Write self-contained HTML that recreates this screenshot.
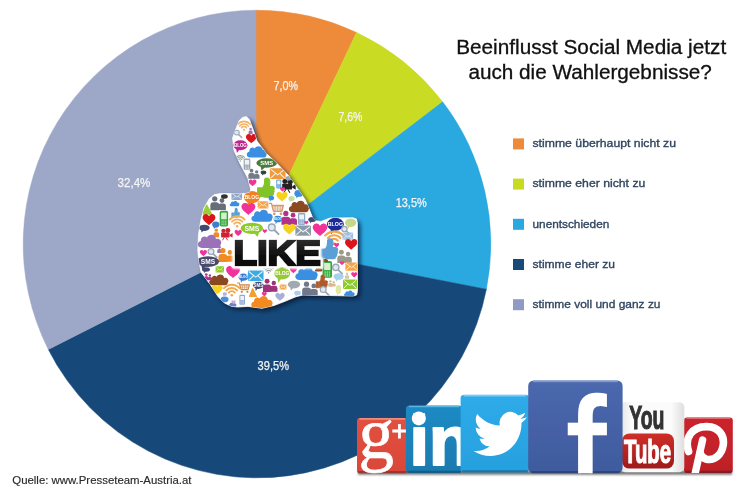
<!DOCTYPE html>
<html lang="de">
<head>
<meta charset="utf-8">
<title>Beeinflusst Social Media jetzt auch die Wahlergebnisse?</title>
<style>
html,body{margin:0;padding:0;background:#fff;}
body{width:750px;height:491px;overflow:hidden;position:relative;font-family:"Liberation Sans",sans-serif;}
svg{position:absolute;left:0;top:0;display:block;}
text{font-family:"Liberation Sans",sans-serif;}
text.serif{font-family:"Liberation Serif",serif;}
.pl{fill:#f4f4f4;font-size:12.2px;stroke:#f4f4f4;stroke-width:0.25px;}
.lg{fill:#30455f;font-size:11.7px;stroke:#30455f;stroke-width:0.35px;}
.ttl{fill:#111;font-size:19.4px;stroke:#111;stroke-width:0.3px;}
.src{fill:#2a2a2a;font-size:11.4px;stroke:#2a2a2a;stroke-width:0.15px;}
</style>
</head>
<body>
<svg width="750" height="491" viewBox="0 0 750 491">
<defs>
<filter id="blur1" x="-5%" y="-5%" width="110%" height="110%"><feGaussianBlur stdDeviation="0.5"/></filter>
<filter id="shadow" x="-20%" y="-20%" width="150%" height="150%"><feGaussianBlur stdDeviation="2"/></filter>
<clipPath id="thumbclip"><path d="M242.6,117.4 L246.2,116.6 L249.4,119.4 L252.6,128 L257,141 L266,153 L277.8,164.2 L288,175 L297.6,188.6 L305.2,199.6 L309.6,210 L312.6,217.6 L316,220.8 L321,221.4 L326,219.6 L330,218 L353,217.8 L356.4,218.9 L357.4,223 L357.4,291.5 L356.6,295 L353,296 L303,295 L296,296.7 L285,301.3 L274,305.5 L262,308.3 L248,306.4 L238,307 L231.6,306.4 L224.4,303 L218.1,296.7 L210.2,284.4 L201,272.2 L198.4,258.3 L197.8,250 L198.4,235 L200.8,220.3 L204,208 L209.4,198.6 L214.5,194.6 L220.5,193.6 L246,193.4 L250,192.3 L250.6,189 L247.8,178.3 L240,163.4 L234,150.6 L232.6,138 L236.3,127.8 L239.2,120.6 Z"/></clipPath>
<linearGradient id="likeg" x1="0" y1="0" x2="0" y2="1"><stop offset="0" stop-color="#3a3a3a"/><stop offset="0.55" stop-color="#111"/><stop offset="1" stop-color="#000"/></linearGradient>
<filter id="halo" x="-10%" y="-20%" width="120%" height="140%"><feMorphology in="SourceAlpha" operator="dilate" radius="2" result="d"/><feGaussianBlur in="d" stdDeviation="0.8" result="db"/><feFlood flood-color="#fff"/><feComposite in2="db" operator="in" result="h"/><feMerge><feMergeNode in="h"/><feMergeNode in="h"/><feMergeNode in="SourceGraphic"/></feMerge></filter>
<filter id="blur2" x="-10%" y="-10%" width="120%" height="120%"><feGaussianBlur stdDeviation="0.55"/></filter>
<filter id="blur3" x="-5%" y="-10%" width="110%" height="120%"><feGaussianBlur stdDeviation="0.5"/></filter>
<filter id="sh2" x="-5%" y="-50%" width="110%" height="200%"><feGaussianBlur stdDeviation="1.2"/></filter>
<linearGradient id="ping" x1="0" y1="0" x2="0" y2="1"><stop offset="0" stop-color="#cb242d"/><stop offset="1" stop-color="#bd1f27"/></linearGradient>
<clipPath id="pinclip"><rect x="684" y="417.4" width="48.8" height="55.6" rx="3"/></clipPath>
<linearGradient id="gpg" x1="0" y1="0" x2="0" y2="1"><stop offset="0" stop-color="#e2513f"/><stop offset="1" stop-color="#d9463a"/></linearGradient>
<linearGradient id="lig" x1="0" y1="0" x2="0" y2="1"><stop offset="0" stop-color="#1d8ac4"/><stop offset="1" stop-color="#197bb0"/></linearGradient>
<linearGradient id="twg" x1="0" y1="0" x2="0" y2="1"><stop offset="0" stop-color="#2eabea"/><stop offset="1" stop-color="#27a0de"/></linearGradient>
<linearGradient id="ytg" x1="0" y1="0" x2="1" y2="0"><stop offset="0" stop-color="#e4e4e4"/><stop offset="0.18" stop-color="#fbfbfb"/><stop offset="0.8" stop-color="#fbfbfb"/><stop offset="1" stop-color="#dedede"/></linearGradient>
<linearGradient id="ytr" x1="0" y1="0" x2="0" y2="1"><stop offset="0" stop-color="#cf2e28"/><stop offset="1" stop-color="#9e1c1c"/></linearGradient>
<linearGradient id="fbg" x1="0" y1="0" x2="0" y2="1"><stop offset="0" stop-color="#4b68ae"/><stop offset="1" stop-color="#3f5b9e"/></linearGradient>
<clipPath id="fbclip"><rect x="528.2" y="380.5" width="94.4" height="92.7" rx="5.5"/></clipPath>

</defs>
<rect width="750" height="491" fill="#fff"/>
<!-- PIE -->
<g id="pie" filter="url(#blur1)">
<path fill="#EE8B3A" stroke="#EE8B3A" stroke-width="0.5" stroke-linejoin="round" d="M256.0,244.4 L255.98,10.20 A233.8,233.8 0 0 1 356.55,32.45 Z"/>
<path fill="#C9DB21" stroke="#C9DB21" stroke-width="0.5" stroke-linejoin="round" d="M256.0,244.4 L356.55,32.45 A233.8,233.8 0 0 1 442.63,101.87 Z"/>
<path fill="#29A9E0" stroke="#29A9E0" stroke-width="0.5" stroke-linejoin="round" d="M256.0,244.4 L442.63,101.87 A233.8,233.8 0 0 1 486.38,289.25 Z"/>
<path fill="#174A79" stroke="#174A79" stroke-width="0.5" stroke-linejoin="round" d="M256.0,244.4 L486.38,289.25 A233.8,233.8 0 0 1 48.31,349.42 Z"/>
<path fill="#9DA7C8" stroke="#9DA7C8" stroke-width="0.5" stroke-linejoin="round" d="M256.0,244.4 L48.31,349.42 A233.8,233.8 0 0 1 255.98,10.20 Z"/>
</g>
<!-- PIE LABELS -->
<g id="plabels">
<text id="p1" class="pl" x="273.5" y="90" textLength="24.5" lengthAdjust="spacingAndGlyphs">7,0%</text>
<text id="p2" class="pl" x="338.4" y="121.2" textLength="24" lengthAdjust="spacingAndGlyphs">7,6%</text>
<text id="p3" class="pl" x="395.7" y="207.4" textLength="31" lengthAdjust="spacingAndGlyphs">13,5%</text>
<text id="p4" class="pl" x="257.6" y="369.6" textLength="31.4" lengthAdjust="spacingAndGlyphs">39,5%</text>
<text id="p5" class="pl" x="117.6" y="187" textLength="32.8" lengthAdjust="spacingAndGlyphs">32,4%</text>
</g>
<!-- TITLE -->
<text id="t1" class="ttl" x="456.2" y="53.7" textLength="270" lengthAdjust="spacingAndGlyphs">Beeinflusst Social Media jetzt</text>
<text id="t2" class="ttl" x="468.4" y="78.6" textLength="243.4" lengthAdjust="spacingAndGlyphs">auch die Wahlergebnisse?</text>
<!-- LEGEND -->
<g id="legend">
<rect x="513" y="138.4" width="11" height="11" fill="#EE8B3A"/>
<rect x="513" y="178.6" width="11" height="11" fill="#C9DB21"/>
<rect x="513" y="218.8" width="11" height="11" fill="#29A9E0"/>
<rect x="513" y="259" width="11" height="11" fill="#174A79"/>
<rect x="513" y="299.2" width="11" height="11" fill="#8F9BC4"/>
<text id="l1" class="lg" x="532.5" y="147.2" textLength="143.5" lengthAdjust="spacingAndGlyphs">stimme überhaupt nicht zu</text>
<text id="l2" class="lg" x="532.5" y="187.4" textLength="112.8" lengthAdjust="spacingAndGlyphs">stimme eher nicht zu</text>
<text id="l3" class="lg" x="532.5" y="227.6" textLength="76.8" lengthAdjust="spacingAndGlyphs">unentschieden</text>
<text id="l4" class="lg" x="532.5" y="267.8" textLength="82.5" lengthAdjust="spacingAndGlyphs">stimme eher zu</text>
<text id="l5" class="lg" x="532.5" y="308" textLength="128" lengthAdjust="spacingAndGlyphs">stimme voll und ganz zu</text>
</g>
<!-- SOURCE -->
<text id="src" class="src" x="12.3" y="483.7">Quelle: www.Presseteam-Austria.at</text>
<g id="thumb">
<path d="M242.6,117.4 L246.2,116.6 L249.4,119.4 L252.6,128 L257,141 L266,153 L277.8,164.2 L288,175 L297.6,188.6 L305.2,199.6 L309.6,210 L312.6,217.6 L316,220.8 L321,221.4 L326,219.6 L330,218 L353,217.8 L356.4,218.9 L357.4,223 L357.4,291.5 L356.6,295 L353,296 L303,295 L296,296.7 L285,301.3 L274,305.5 L262,308.3 L248,306.4 L238,307 L231.6,306.4 L224.4,303 L218.1,296.7 L210.2,284.4 L201,272.2 L198.4,258.3 L197.8,250 L198.4,235 L200.8,220.3 L204,208 L209.4,198.6 L214.5,194.6 L220.5,193.6 L246,193.4 L250,192.3 L250.6,189 L247.8,178.3 L240,163.4 L234,150.6 L232.6,138 L236.3,127.8 L239.2,120.6 Z" transform="translate(2.8,2.8)" fill="#07142a" opacity="0.8" filter="url(#shadow)"/>
<g filter="url(#blur2)"><path d="M242.6,117.4 L246.2,116.6 L249.4,119.4 L252.6,128 L257,141 L266,153 L277.8,164.2 L288,175 L297.6,188.6 L305.2,199.6 L309.6,210 L312.6,217.6 L316,220.8 L321,221.4 L326,219.6 L330,218 L353,217.8 L356.4,218.9 L357.4,223 L357.4,291.5 L356.6,295 L353,296 L303,295 L296,296.7 L285,301.3 L274,305.5 L262,308.3 L248,306.4 L238,307 L231.6,306.4 L224.4,303 L218.1,296.7 L210.2,284.4 L201,272.2 L198.4,258.3 L197.8,250 L198.4,235 L200.8,220.3 L204,208 L209.4,198.6 L214.5,194.6 L220.5,193.6 L246,193.4 L250,192.3 L250.6,189 L247.8,178.3 L240,163.4 L234,150.6 L232.6,138 L236.3,127.8 L239.2,120.6 Z" fill="#fff" stroke="#fff" stroke-width="0.8" stroke-linejoin="round"/>
<g clip-path="url(#thumbclip)">
<path d="M241.55,127.63 A3.29,3.29 0 0 1 246.45,127.63" fill="none" stroke="#f2b262" stroke-width="1.53" stroke-linecap="round"/><path d="M239.63,125.9 A5.88,5.88 0 0 1 248.37,125.9" fill="none" stroke="#f2b262" stroke-width="1.53" stroke-linecap="round"/><path d="M237.71,124.17 A8.47,8.47 0 0 1 250.29,124.17" fill="none" stroke="#f2b262" stroke-width="1.53" stroke-linecap="round"/><circle cx="244" cy="129.83" r="1.06" fill="#f2b262"/>
<circle cx="236.8" cy="132.6" r="2.46" fill="#dfe9f3" stroke="#9aa6b4" stroke-width="1.03"/><path d="M238.89,134.69 L241.73,137.53" stroke="#9aa6b4" stroke-width="1.48" stroke-linecap="round"/>
<circle cx="250.6" cy="129.08" r="1.21" fill="#9b72ba"/><path fill="#9b72ba" d="M248.58,134.12 L248.58,131.99 Q248.58,130.62 249.95,130.62 L251.25,130.62 Q252.62,130.62 252.62,131.99 L252.62,134.12 Z"/>
<path transform="translate(251.3,138.9) scale(0.54)" fill="#d9181f" d="M0,8 C-3,5 -10,1 -10,-4 C-10,-8 -6,-10 -3.5,-9 C-2,-8.6 -0.8,-7.6 0,-6 C0.8,-7.6 2,-8.6 3.5,-9 C6,-10 10,-8 10,-4 C10,1 3,5 0,8 Z"/>
<ellipse cx="240.4" cy="145.2" rx="7.06" ry="5.04" fill="#c0208f"/><path fill="#c0208f" d="M236.17,148.22 L236.87,153.01 L240.05,148.73 Z"/><text x="240.4" y="146.79" font-size="4.41" font-weight="bold" text-anchor="middle" fill="#fff">BLOG</text>
<path transform="translate(257.2,152.2) scale(0.97)" fill="#3b8fe2" d="M-7,5.5 C-11.5,5.5 -12,0 -8,-0.8 C-8.5,-4.5 -4.5,-6 -2.5,-3.8 C-1,-7.5 5.5,-7 5.5,-2.5 C9,-3.5 11.5,0 9.5,2.8 C9.5,4.5 8.5,5.5 6.5,5.5 Z"/>
<path d="M238.67,159.55 A2.2,2.2 0 0 1 241.93,159.55" fill="none" stroke="#8aa08a" stroke-width="1.02" stroke-linecap="round"/><path d="M237.39,158.4 A3.92,3.92 0 0 1 243.21,158.4" fill="none" stroke="#8aa08a" stroke-width="1.02" stroke-linecap="round"/><path d="M236.11,157.25 A5.64,5.64 0 0 1 244.49,157.25" fill="none" stroke="#8aa08a" stroke-width="1.02" stroke-linecap="round"/><circle cx="240.3" cy="161.02" r="0.71" fill="#8aa08a"/>
<rect x="243.64" y="158.6" width="6.72" height="11.2" rx="1.34" fill="#9aa6b4"/><rect x="244.78" y="159.94" width="4.44" height="4.7" fill="#eef2f6"/><path d="M244.98,165.99 H249.02 M244.98,167.34 H249.02 M244.98,168.57 H249.02" stroke="#eef2f6" stroke-width="0.62" stroke-dasharray="1.01 0.5" fill="none"/>
<ellipse cx="266.7" cy="163" rx="10.36" ry="4.76" fill="#4c7a3c"/><path fill="#4c7a3c" d="M260.48,165.86 L261.52,170.38 L266.18,166.33 Z"/><text x="266.7" y="165.12" font-size="5.9" font-weight="bold" text-anchor="middle" fill="#fff">SMS</text>
<circle cx="256.69" cy="171.93" r="1.69" fill="#737b88"/><path fill="#737b88" d="M253.87,178.71 L253.87,176 Q253.87,174.08 255.78,174.08 L257.59,174.08 Q259.51,174.08 259.51,176 L259.51,178.71 Z"/><circle cx="251.54" cy="170.66" r="1.88" fill="#737b88"/><path fill="#737b88" d="M248.4,178.82 L248.4,175.18 Q248.4,173.05 250.53,173.05 L252.54,173.05 Q254.67,173.05 254.67,175.18 L254.67,178.82 Z"/>
<ellipse cx="263.5" cy="172.5" rx="2.8" ry="1.96" fill="#2d4a3a"/><path fill="#2d4a3a" d="M261.82,173.68 L262.1,175.54 L263.36,173.87 Z"/>
<rect x="269.86" y="168.28" width="15.68" height="10.64" rx="1.25" fill="#f09a3a"/><path d="M270.8,169.34 L277.7,174.88 L284.6,169.34 M270.8,178.07 L275.82,173.07 M284.6,178.07 L279.58,173.07" fill="none" stroke="#fff" stroke-opacity="0.85" stroke-width="1.1"/>
<path transform="translate(252.6,183) scale(0.39)" fill="#f2309a" d="M0,8 C-3,5 -10,1 -10,-4 C-10,-8 -6,-10 -3.5,-9 C-2,-8.6 -0.8,-7.6 0,-6 C0.8,-7.6 2,-8.6 3.5,-9 C6,-10 10,-8 10,-4 C10,1 3,5 0,8 Z"/>
<path transform="translate(265.8,187.4) scale(1.02)" fill="#80c42c" stroke="#80c42c" stroke-width="1.1" stroke-linejoin="round" d="M-8,0.5 H-4.6 V9.2 H-8 Z M-3.8,0.8 C-1.6,-0.8 -1,-3.6 -1.2,-7 C-1.3,-10 3.4,-10 3.9,-6.2 C4.2,-3.8 3.6,-2 3.2,-0.9 H6.4 C8.8,-0.9 8.9,2 7.3,2.5 C8.6,3.1 8.4,5 7,5.3 C8,6 7.5,7.7 6.2,7.9 C6.6,8.9 5.8,9.6 4.5,9.6 H-0.5 C-2,9.6 -2.8,9 -3.8,8.5 Z"/>
<rect x="276.28" y="179.52" width="5.04" height="8.96" rx="1.01" fill="#5aa0d6"/><rect x="277.14" y="180.6" width="3.33" height="3.76" fill="#e8f2fa"/><path d="M277.29,185.43 H280.31 M277.29,186.51 H280.31 M277.29,187.49 H280.31" stroke="#e8f2fa" stroke-width="0.49" stroke-dasharray="0.76 0.38" fill="none"/>
<g transform="translate(288.4,185.3) scale(1.04)" fill="#222"><circle cx="-3.4" cy="-3.6" r="2.4"/><circle cx="1.6" cy="-3.9" r="2.8"/><rect x="-6" y="-1.6" width="9.6" height="5.6" rx="0.8"/><path d="M3.6,1.2 L7,-1.2 V4.2 L3.6,2 Z"/><path d="M-2.5,4 L-4.5,7.2 M-0.5,4 L1.5,7.2" stroke="#222" stroke-width="1" fill="none"/></g>
<path transform="translate(282.5,189.6) scale(0.25)" fill="#f2309a" d="M0,8 C-3,5 -10,1 -10,-4 C-10,-8 -6,-10 -3.5,-9 C-2,-8.6 -0.8,-7.6 0,-6 C0.8,-7.6 2,-8.6 3.5,-9 C6,-10 10,-8 10,-4 C10,1 3,5 0,8 Z"/>
<ellipse cx="289" cy="178.3" rx="3.36" ry="2.24" fill="#9aa6b4"/><path fill="#9aa6b4" d="M286.98,179.64 L287.32,181.77 L288.83,179.87 Z"/>
<ellipse cx="298.8" cy="193.4" rx="4.48" ry="3.36" fill="#3b8fe2"/><path fill="#3b8fe2" d="M296.11,195.42 L296.56,198.61 L298.58,195.75 Z"/>
<ellipse cx="224.4" cy="196.6" rx="3.36" ry="2.24" fill="#333"/><path fill="#333" d="M222.38,197.94 L222.72,200.07 L224.23,198.17 Z"/>
<circle cx="221.96" cy="200.58" r="2.37" fill="#666e7a"/><path fill="#666e7a" d="M218.01,210.07 L218.01,206.27 Q218.01,203.59 220.7,203.59 L223.23,203.59 Q225.91,203.59 225.91,206.27 L225.91,210.07 Z"/><circle cx="214.75" cy="198.81" r="2.63" fill="#666e7a"/><path fill="#666e7a" d="M210.36,210.22 L210.36,205.13 Q210.36,202.15 213.35,202.15 L216.16,202.15 Q219.14,202.15 219.14,205.13 L219.14,210.22 Z"/>
<rect x="231.48" y="192.66" width="10.64" height="7.28" rx="0.85" fill="#8fa8c8"/><path d="M232.12,193.39 L236.8,197.17 L241.48,193.39 M232.12,199.36 L235.52,195.94 M241.48,199.36 L238.08,195.94" fill="none" stroke="#fff" stroke-opacity="0.85" stroke-width="0.74"/>
<ellipse cx="251.9" cy="197.2" rx="7.84" ry="6.16" fill="#f08020"/><path fill="#f08020" d="M247.2,200.9 L247.98,206.75 L251.51,201.51 Z"/><text x="251.9" y="198.96" font-size="4.9" font-weight="bold" text-anchor="middle" fill="#fff">BLOG</text>
<path transform="translate(282,197) scale(0.56)" fill="#f6d21f" d="M0,8 C-3,5 -10,1 -10,-4 C-10,-8 -6,-10 -3.5,-9 C-2,-8.6 -0.8,-7.6 0,-6 C0.8,-7.6 2,-8.6 3.5,-9 C6,-10 10,-8 10,-4 C10,1 3,5 0,8 Z"/>
<rect x="257.68" y="201.16" width="10.64" height="7.28" rx="0.85" fill="#f5a64a"/><path d="M258.32,201.89 L263,205.67 L267.68,201.89 M258.32,207.86 L261.72,204.44 M267.68,207.86 L264.28,204.44" fill="none" stroke="#fff" stroke-opacity="0.85" stroke-width="0.74"/>
<path transform="translate(234.7,203.8) scale(0.46)" fill="#3b8fe2" d="M-7,5.5 C-11.5,5.5 -12,0 -8,-0.8 C-8.5,-4.5 -4.5,-6 -2.5,-3.8 C-1,-7.5 5.5,-7 5.5,-2.5 C9,-3.5 11.5,0 9.5,2.8 C9.5,4.5 8.5,5.5 6.5,5.5 Z"/>
<path transform="translate(235.6,212.6) scale(0.49)" fill="#5aa0d6" stroke="#5aa0d6" stroke-width="1.1" stroke-linejoin="round" d="M-8,0.5 H-4.6 V9.2 H-8 Z M-3.8,0.8 C-1.6,-0.8 -1,-3.6 -1.2,-7 C-1.3,-10 3.4,-10 3.9,-6.2 C4.2,-3.8 3.6,-2 3.2,-0.9 H6.4 C8.8,-0.9 8.9,2 7.3,2.5 C8.6,3.1 8.4,5 7,5.3 C8,6 7.5,7.7 6.2,7.9 C6.6,8.9 5.8,9.6 4.5,9.6 H-0.5 C-2,9.6 -2.8,9 -3.8,8.5 Z"/>
<path fill="#98d030" stroke="#98d030" stroke-width="1.71" stroke-linejoin="round" d="M203.2,213.83 L206.72,205.37 L211.2,213.83 Z"/>
<path transform="translate(248.4,209.4) scale(0.7)" fill="#f2309a" d="M0,8 C-3,5 -10,1 -10,-4 C-10,-8 -6,-10 -3.5,-9 C-2,-8.6 -0.8,-7.6 0,-6 C0.8,-7.6 2,-8.6 3.5,-9 C6,-10 10,-8 10,-4 C10,1 3,5 0,8 Z"/>
<g transform="translate(276.6,208.6) scale(1.04)"><path d="M-7,-5 H-5 L-3,2.5 H5 L6.5,-3 H-4.4" fill="none" stroke="#d49a72" stroke-width="1.3" stroke-linejoin="round" stroke-linecap="round"/><path d="M-4,-1.6 H6 M-3.6,0.4 H5.5 M-1.5,-3 V2.5 M1,-3 V2.5 M3.5,-3 V2.5" fill="none" stroke="#d49a72" stroke-width="0.7"/><circle cx="-2.2" cy="5" r="1.3" fill="#d49a72"/><circle cx="4.2" cy="5" r="1.3" fill="#d49a72"/></g>
<ellipse cx="271.3" cy="198" rx="2.8" ry="2.35" fill="#3b8fe2"/><path fill="#3b8fe2" d="M269.62,199.41 L269.9,201.65 L271.16,199.65 Z"/>
<ellipse cx="291.5" cy="198.4" rx="3.08" ry="2.52" fill="#c4dca0"/><path fill="#c4dca0" d="M289.65,199.91 L289.96,202.31 L291.35,200.16 Z"/>
<path transform="translate(299.3,206.8) scale(0.97)" fill="#8b4a22" d="M-7,5.5 C-11.5,5.5 -12,0 -8,-0.8 C-8.5,-4.5 -4.5,-6 -2.5,-3.8 C-1,-7.5 5.5,-7 5.5,-2.5 C9,-3.5 11.5,0 9.5,2.8 C9.5,4.5 8.5,5.5 6.5,5.5 Z"/>
<path transform="translate(209,220) scale(0.64)" fill="#d9181f" d="M0,8 C-3,5 -10,1 -10,-4 C-10,-8 -6,-10 -3.5,-9 C-2,-8.6 -0.8,-7.6 0,-6 C0.8,-7.6 2,-8.6 3.5,-9 C6,-10 10,-8 10,-4 C10,1 3,5 0,8 Z"/>
<rect x="219.7" y="210.76" width="8.4" height="15.68" rx="1.68" fill="#37a83c"/><rect x="221.13" y="212.64" width="5.54" height="6.59" fill="#d8f0d0"/><path d="M221.38,221.11 H226.42 M221.38,222.99 H226.42 M221.38,224.72 H226.42" stroke="#d8f0d0" stroke-width="0.86" stroke-dasharray="1.26 0.63" fill="none"/>
<path d="M234.29,223.72 A3.92,3.92 0 0 1 240.11,223.72" fill="none" stroke="#f2ae58" stroke-width="1.82" stroke-linecap="round"/><path d="M232,221.66 A7,7 0 0 1 242.4,221.66" fill="none" stroke="#f2ae58" stroke-width="1.82" stroke-linecap="round"/><path d="M229.71,219.6 A10.08,10.08 0 0 1 244.69,219.6" fill="none" stroke="#f2ae58" stroke-width="1.82" stroke-linecap="round"/><circle cx="237.2" cy="226.34" r="1.26" fill="#f2ae58"/>
<path transform="translate(262.3,216.2) scale(1.02)" fill="#3b8fe2" d="M-7,5.5 C-11.5,5.5 -12,0 -8,-0.8 C-8.5,-4.5 -4.5,-6 -2.5,-3.8 C-1,-7.5 5.5,-7 5.5,-2.5 C9,-3.5 11.5,0 9.5,2.8 C9.5,4.5 8.5,5.5 6.5,5.5 Z"/>
<ellipse cx="277.8" cy="219" rx="4.2" ry="3.36" fill="#3a8cd8"/><path fill="#3a8cd8" d="M275.28,221.02 L275.7,224.21 L277.59,221.35 Z"/><text x="277.8" y="219.94" font-size="2.62" font-weight="bold" text-anchor="middle" fill="#fff">BLOG</text>
<circle cx="293.06" cy="215.18" r="2.37" fill="#b0308a"/><path fill="#b0308a" d="M289.11,224.67 L289.11,220.87 Q289.11,218.19 291.8,218.19 L294.33,218.19 Q297.01,218.19 297.01,220.87 L297.01,224.67 Z"/><circle cx="285.85" cy="213.41" r="2.63" fill="#b0308a"/><path fill="#b0308a" d="M281.46,224.82 L281.46,219.73 Q281.46,216.75 284.45,216.75 L287.26,216.75 Q290.24,216.75 290.24,219.73 L290.24,224.82 Z"/>
<rect x="297.96" y="213.12" width="7.28" height="11.76" rx="1.46" fill="#8fa8c8"/><rect x="299.2" y="214.53" width="4.8" height="4.94" fill="#eef2f6"/><path d="M299.42,220.88 H303.78 M299.42,222.29 H303.78 M299.42,223.59 H303.78" stroke="#eef2f6" stroke-width="0.65" stroke-dasharray="1.09 0.55" fill="none"/>
<ellipse cx="312.2" cy="219.6" rx="3.92" ry="2.52" fill="#3f4a70"/><path fill="#3f4a70" d="M309.85,221.11 L310.24,223.51 L312,221.36 Z"/>
<ellipse cx="215.8" cy="224.6" rx="3.64" ry="3.08" fill="#3a80d0"/><path fill="#3a80d0" d="M213.62,226.45 L213.98,229.37 L215.62,226.76 Z"/>
<ellipse cx="204.3" cy="227.8" rx="5.32" ry="3.08" fill="#3f4a70"/><path fill="#3f4a70" d="M201.11,229.65 L201.64,232.57 L204.03,229.96 Z"/>
<ellipse cx="251.9" cy="228.3" rx="11.2" ry="5.6" fill="#8ccb2a"/><path fill="#8ccb2a" d="M253.02,231.66 L257.5,236.98 L259.18,232.22 Z"/><text x="251.9" y="230.8" font-size="6.94" font-weight="bold" text-anchor="middle" fill="#fff">SMS</text>
<circle cx="271.8" cy="227.4" r="3.36" fill="#dfe9f3" stroke="#9aa6b4" stroke-width="1.41"/><path d="M274.66,230.26 L278.52,234.12" stroke="#9aa6b4" stroke-width="2.02" stroke-linecap="round"/>
<path transform="translate(264.8,231.4) scale(0.22)" fill="#f2309a" d="M0,8 C-3,5 -10,1 -10,-4 C-10,-8 -6,-10 -3.5,-9 C-2,-8.6 -0.8,-7.6 0,-6 C0.8,-7.6 2,-8.6 3.5,-9 C6,-10 10,-8 10,-4 C10,1 3,5 0,8 Z"/>
<path transform="translate(289.3,229.6) scale(0.62)" fill="#f6d21f" d="M0,8 C-3,5 -10,1 -10,-4 C-10,-8 -6,-10 -3.5,-9 C-2,-8.6 -0.8,-7.6 0,-6 C0.8,-7.6 2,-8.6 3.5,-9 C6,-10 10,-8 10,-4 C10,1 3,5 0,8 Z"/>
<rect x="295.36" y="225.56" width="15.68" height="10.08" rx="1.25" fill="#8a9aa8"/><path d="M296.3,226.57 L303.2,231.81 L310.1,226.57 M296.3,234.83 L301.32,230.1 M310.1,234.83 L305.08,230.1" fill="none" stroke="#fff" stroke-opacity="0.85" stroke-width="1.1"/>
<path transform="translate(320,230.2) scale(0.73)" fill="#f2309a" d="M0,8 C-3,5 -10,1 -10,-4 C-10,-8 -6,-10 -3.5,-9 C-2,-8.6 -0.8,-7.6 0,-6 C0.8,-7.6 2,-8.6 3.5,-9 C6,-10 10,-8 10,-4 C10,1 3,5 0,8 Z"/>
<path transform="translate(306.4,222.8) scale(0.2)" fill="#f2309a" d="M0,8 C-3,5 -10,1 -10,-4 C-10,-8 -6,-10 -3.5,-9 C-2,-8.6 -0.8,-7.6 0,-6 C0.8,-7.6 2,-8.6 3.5,-9 C6,-10 10,-8 10,-4 C10,1 3,5 0,8 Z"/>
<ellipse cx="335.4" cy="224.3" rx="8.4" ry="6.44" fill="#1b2a98"/><path fill="#1b2a98" d="M330.36,228.16 L331.2,234.28 L334.98,228.81 Z"/><text x="335.4" y="226.19" font-size="5.25" font-weight="bold" text-anchor="middle" fill="#fff">BLOG</text>
<ellipse cx="350.6" cy="222.8" rx="5.6" ry="4.2" fill="#c8d88a"/><path fill="#c8d88a" d="M347.24,225.32 L347.8,229.31 L350.32,225.74 Z"/>
<circle cx="344.4" cy="229" r="2.69" fill="#dfe9f3" stroke="#9aa6b4" stroke-width="1.13"/><path d="M346.68,231.28 L349.78,234.38" stroke="#9aa6b4" stroke-width="1.61" stroke-linecap="round"/>
<path d="M330.7,240.5 A4.7,4.7 0 0 1 337.7,240.5" fill="none" stroke="#f5a64a" stroke-width="2.18" stroke-linecap="round"/><path d="M327.96,238.03 A8.4,8.4 0 0 1 340.44,238.03" fill="none" stroke="#f5a64a" stroke-width="2.18" stroke-linecap="round"/><path d="M325.21,235.55 A12.1,12.1 0 0 1 343.19,235.55" fill="none" stroke="#f5a64a" stroke-width="2.18" stroke-linecap="round"/><circle cx="334.2" cy="243.65" r="1.51" fill="#f5a64a"/>
<rect x="342.48" y="232.56" width="10.64" height="7.28" rx="0.85" fill="#9fc0e0"/><path d="M343.12,233.29 L347.8,237.07 L352.48,233.29 M343.12,239.26 L346.52,235.84 M352.48,239.26 L349.08,235.84" fill="none" stroke="#fff" stroke-opacity="0.85" stroke-width="0.74"/>
<path transform="translate(351.2,244.8) scale(0.62)" fill="#d9181f" d="M0,8 C-3,5 -10,1 -10,-4 C-10,-8 -6,-10 -3.5,-9 C-2,-8.6 -0.8,-7.6 0,-6 C0.8,-7.6 2,-8.6 3.5,-9 C6,-10 10,-8 10,-4 C10,1 3,5 0,8 Z"/>
<path transform="translate(336.6,245.2) scale(0.25)" fill="#f2309a" d="M0,8 C-3,5 -10,1 -10,-4 C-10,-8 -6,-10 -3.5,-9 C-2,-8.6 -0.8,-7.6 0,-6 C0.8,-7.6 2,-8.6 3.5,-9 C6,-10 10,-8 10,-4 C10,1 3,5 0,8 Z"/>
<path transform="translate(328.8,248.5) scale(1.05)" fill="#5aa0d6" stroke="#5aa0d6" stroke-width="1.1" stroke-linejoin="round" d="M-8,0.5 H-4.6 V9.2 H-8 Z M-3.8,0.8 C-1.6,-0.8 -1,-3.6 -1.2,-7 C-1.3,-10 3.4,-10 3.9,-6.2 C4.2,-3.8 3.6,-2 3.2,-0.9 H6.4 C8.8,-0.9 8.9,2 7.3,2.5 C8.6,3.1 8.4,5 7,5.3 C8,6 7.5,7.7 6.2,7.9 C6.6,8.9 5.8,9.6 4.5,9.6 H-0.5 C-2,9.6 -2.8,9 -3.8,8.5 Z"/>
<circle cx="348.09" cy="253.97" r="2.2" fill="#9a9a8a"/><path fill="#9a9a8a" d="M344.43,262.78 L344.43,259.25 Q344.43,256.76 346.92,256.76 L349.27,256.76 Q351.76,256.76 351.76,259.25 L351.76,262.78 Z"/><circle cx="341.4" cy="252.32" r="2.45" fill="#9a9a8a"/><path fill="#9a9a8a" d="M337.32,262.92 L337.32,258.19 Q337.32,255.42 340.09,255.42 L342.7,255.42 Q345.47,255.42 345.47,258.19 L345.47,262.92 Z"/>
<circle cx="216.3" cy="230.14" r="1.68" fill="#f28a22"/><path fill="#f28a22" d="M213.5,237.14 L213.5,234.17 Q213.5,232.27 215.4,232.27 L217.2,232.27 Q219.1,232.27 219.1,234.17 L219.1,237.14 Z"/>
<g transform="translate(226.4,234) scale(0.88)" fill="#d02030"><circle cx="-3.4" cy="-3.6" r="2.4"/><circle cx="1.6" cy="-3.9" r="2.8"/><rect x="-6" y="-1.6" width="9.6" height="5.6" rx="0.8"/><path d="M3.6,1.2 L7,-1.2 V4.2 L3.6,2 Z"/><path d="M-2.5,4 L-4.5,7.2 M-0.5,4 L1.5,7.2" stroke="#d02030" stroke-width="1" fill="none"/></g>
<path transform="translate(238.2,233.2) scale(0.36)" fill="#f2309a" d="M0,8 C-3,5 -10,1 -10,-4 C-10,-8 -6,-10 -3.5,-9 C-2,-8.6 -0.8,-7.6 0,-6 C0.8,-7.6 2,-8.6 3.5,-9 C6,-10 10,-8 10,-4 C10,1 3,5 0,8 Z"/>
<path transform="translate(209.8,241.8) scale(1.12)" fill="#9b72ba" d="M-7,5.5 C-11.5,5.5 -12,0 -8,-0.8 C-8.5,-4.5 -4.5,-6 -2.5,-3.8 C-1,-7.5 5.5,-7 5.5,-2.5 C9,-3.5 11.5,0 9.5,2.8 C9.5,4.5 8.5,5.5 6.5,5.5 Z"/>
<path transform="translate(203.4,253.3) scale(0.36)" fill="#f2309a" d="M0,8 C-3,5 -10,1 -10,-4 C-10,-8 -6,-10 -3.5,-9 C-2,-8.6 -0.8,-7.6 0,-6 C0.8,-7.6 2,-8.6 3.5,-9 C6,-10 10,-8 10,-4 C10,1 3,5 0,8 Z"/>
<circle cx="211" cy="251.6" r="2.91" fill="#dfe9f3" stroke="#9aa6b4" stroke-width="1.22"/><path d="M213.48,254.08 L216.82,257.42" stroke="#9aa6b4" stroke-width="1.75" stroke-linecap="round"/>
<circle cx="219.5" cy="247.37" r="1.34" fill="#9b72ba"/><path fill="#9b72ba" d="M217.26,252.97 L217.26,250.6 Q217.26,249.07 218.78,249.07 L220.22,249.07 Q221.74,249.07 221.74,250.6 L221.74,252.97 Z"/>
<circle cx="230.06" cy="252.38" r="2.37" fill="#f28a22"/><path fill="#f28a22" d="M226.11,261.87 L226.11,258.07 Q226.11,255.39 228.8,255.39 L231.33,255.39 Q234.01,255.39 234.01,258.07 L234.01,261.87 Z"/><circle cx="222.85" cy="250.61" r="2.63" fill="#f28a22"/><path fill="#f28a22" d="M218.46,262.02 L218.46,256.93 Q218.46,253.95 221.45,253.95 L224.26,253.95 Q227.24,253.95 227.24,256.93 L227.24,262.02 Z"/>
<ellipse cx="207.9" cy="261.6" rx="11.2" ry="5.32" fill="#4a4a6c"/><path fill="#4a4a6c" d="M201.18,264.79 L202.3,269.85 L207.34,265.32 Z"/><text x="207.9" y="263.97" font-size="6.6" font-weight="bold" text-anchor="middle" fill="#fff">SMS</text>
<ellipse cx="206" cy="269.6" rx="3.92" ry="2.24" fill="#3f4a70"/><path fill="#3f4a70" d="M203.65,270.94 L204.04,273.07 L205.8,271.17 Z"/>
<rect x="215.6" y="266.22" width="8.4" height="6.16" rx="0.67" fill="#8ccb2a"/><path d="M216.1,266.84 L219.8,270.04 L223.5,266.84 M216.1,271.89 L218.79,268.99 M223.5,271.89 L220.81,268.99" fill="none" stroke="#fff" stroke-opacity="0.85" stroke-width="0.6"/>
<circle cx="209.88" cy="275.49" r="1.19" fill="#b0308a"/><path fill="#b0308a" d="M207.91,280.23 L207.91,278.34 Q207.91,276.99 209.25,276.99 L210.51,276.99 Q211.86,276.99 211.86,278.34 L211.86,280.23 Z"/><circle cx="206.28" cy="274.6" r="1.32" fill="#b0308a"/><path fill="#b0308a" d="M204.08,280.31 L204.08,277.77 Q204.08,276.27 205.57,276.27 L206.98,276.27 Q208.47,276.27 208.47,277.77 L208.47,280.31 Z"/>
<path transform="translate(233,272.4) scale(0.69)" fill="#f2309a" d="M0,8 C-3,5 -10,1 -10,-4 C-10,-8 -6,-10 -3.5,-9 C-2,-8.6 -0.8,-7.6 0,-6 C0.8,-7.6 2,-8.6 3.5,-9 C6,-10 10,-8 10,-4 C10,1 3,5 0,8 Z"/>
<ellipse cx="243.4" cy="277.2" rx="4.76" ry="3.64" fill="#3a7ad0"/><path fill="#3a7ad0" d="M240.54,279.38 L241.02,282.84 L243.16,279.75 Z"/><text x="243.4" y="278.27" font-size="2.98" font-weight="bold" text-anchor="middle" fill="#fff">BLOG</text>
<rect x="247.86" y="270.48" width="15.68" height="10.64" rx="1.25" fill="#3aa9e2"/><path d="M248.8,271.54 L255.7,277.08 L262.6,271.54 M248.8,280.27 L253.82,275.27 M262.6,280.27 L257.58,275.27" fill="none" stroke="#fff" stroke-opacity="0.85" stroke-width="1.1"/>
<path d="M266.74,271.15 A2.51,2.51 0 0 1 270.46,271.15" fill="none" stroke="#8a9a9a" stroke-width="1.16" stroke-linecap="round"/><path d="M265.27,269.83 A4.48,4.48 0 0 1 271.93,269.83" fill="none" stroke="#8a9a9a" stroke-width="1.16" stroke-linecap="round"/><path d="M263.81,268.51 A6.45,6.45 0 0 1 273.39,268.51" fill="none" stroke="#8a9a9a" stroke-width="1.16" stroke-linecap="round"/><circle cx="268.6" cy="272.83" r="0.81" fill="#8a9a9a"/>
<ellipse cx="282.2" cy="273.4" rx="7.84" ry="6.16" fill="#9ac83a"/><path fill="#9ac83a" d="M277.5,277.1 L278.28,282.95 L281.81,277.71 Z"/><text x="282.2" y="275.16" font-size="4.9" font-weight="bold" text-anchor="middle" fill="#fff">BLOG</text>
<path transform="translate(293.4,270.3) scale(0.36)" fill="#f2309a" d="M0,8 C-3,5 -10,1 -10,-4 C-10,-8 -6,-10 -3.5,-9 C-2,-8.6 -0.8,-7.6 0,-6 C0.8,-7.6 2,-8.6 3.5,-9 C6,-10 10,-8 10,-4 C10,1 3,5 0,8 Z"/>
<path transform="translate(306.8,274) scale(1.07)" fill="#3b8fe2" d="M-7,5.5 C-11.5,5.5 -12,0 -8,-0.8 C-8.5,-4.5 -4.5,-6 -2.5,-3.8 C-1,-7.5 5.5,-7 5.5,-2.5 C9,-3.5 11.5,0 9.5,2.8 C9.5,4.5 8.5,5.5 6.5,5.5 Z"/>
<path transform="translate(318.8,269.5) scale(0.36)" fill="#8b4a22" d="M-7,5.5 C-11.5,5.5 -12,0 -8,-0.8 C-8.5,-4.5 -4.5,-6 -2.5,-3.8 C-1,-7.5 5.5,-7 5.5,-2.5 C9,-3.5 11.5,0 9.5,2.8 C9.5,4.5 8.5,5.5 6.5,5.5 Z"/>
<rect x="322.54" y="261" width="9.52" height="16.8" rx="1.9" fill="#37a83c"/><rect x="324.16" y="263.02" width="6.28" height="7.06" fill="#d8f0d0"/><path d="M324.44,272.09 H330.16 M324.44,274.1 H330.16 M324.44,275.95 H330.16" stroke="#d8f0d0" stroke-width="0.92" stroke-dasharray="1.43 0.71" fill="none"/>
<circle cx="335.8" cy="267.4" r="3.14" fill="#dfe9f3" stroke="#9aa6b4" stroke-width="1.32"/><path d="M338.47,270.07 L342.07,273.67" stroke="#9aa6b4" stroke-width="1.88" stroke-linecap="round"/>
<rect x="345.34" y="262.4" width="12.32" height="8.4" rx="0.99" fill="#f5a64a"/><path d="M346.08,263.24 L351.5,267.61 L356.92,263.24 M346.08,270.13 L350.02,266.18 M356.92,270.13 L352.98,266.18" fill="none" stroke="#fff" stroke-opacity="0.85" stroke-width="0.86"/>
<path transform="translate(354.2,275) scale(0.31)" fill="#f2309a" d="M0,8 C-3,5 -10,1 -10,-4 C-10,-8 -6,-10 -3.5,-9 C-2,-8.6 -0.8,-7.6 0,-6 C0.8,-7.6 2,-8.6 3.5,-9 C6,-10 10,-8 10,-4 C10,1 3,5 0,8 Z"/>
<ellipse cx="338.6" cy="276.5" rx="5.04" ry="3.36" fill="#a8d0f0"/><path fill="#a8d0f0" d="M335.58,278.52 L336.08,281.71 L338.35,278.85 Z"/>
<path transform="translate(219,280.2) scale(0.92)" fill="#8b4a22" d="M-7,5.5 C-11.5,5.5 -12,0 -8,-0.8 C-8.5,-4.5 -4.5,-6 -2.5,-3.8 C-1,-7.5 5.5,-7 5.5,-2.5 C9,-3.5 11.5,0 9.5,2.8 C9.5,4.5 8.5,5.5 6.5,5.5 Z"/>
<g transform="translate(243.7,287.4) scale(0.88)"><path d="M-7,-5 H-5 L-3,2.5 H5 L6.5,-3 H-4.4" fill="none" stroke="#c98a4e" stroke-width="1.3" stroke-linejoin="round" stroke-linecap="round"/><path d="M-4,-1.6 H6 M-3.6,0.4 H5.5 M-1.5,-3 V2.5 M1,-3 V2.5 M3.5,-3 V2.5" fill="none" stroke="#c98a4e" stroke-width="0.7"/><circle cx="-2.2" cy="5" r="1.3" fill="#c98a4e"/><circle cx="4.2" cy="5" r="1.3" fill="#c98a4e"/></g>
<ellipse cx="258.4" cy="285.3" rx="5.32" ry="3.64" fill="#3f4a70"/><path fill="#3f4a70" d="M255.21,287.48 L255.74,290.94 L258.13,287.85 Z"/><text x="258.4" y="286.9" font-size="4.43" font-weight="bold" text-anchor="middle" fill="#fff">SMS</text>
<circle cx="273.79" cy="282.97" r="2.2" fill="#a0307a"/><path fill="#a0307a" d="M270.13,291.78 L270.13,288.25 Q270.13,285.76 272.62,285.76 L274.97,285.76 Q277.46,285.76 277.46,288.25 L277.46,291.78 Z"/><circle cx="267.1" cy="281.32" r="2.45" fill="#a0307a"/><path fill="#a0307a" d="M263.02,291.92 L263.02,287.19 Q263.02,284.42 265.79,284.42 L268.4,284.42 Q271.17,284.42 271.17,287.19 L271.17,291.92 Z"/>
<rect x="279.64" y="284.54" width="6.72" height="4.93" rx="0.54" fill="#f5a64a"/><path d="M280.04,285.03 L283,287.59 L285.96,285.03 M280.04,289.07 L282.19,286.75 M285.96,289.07 L283.81,286.75" fill="none" stroke="#fff" stroke-opacity="0.85" stroke-width="0.6"/>
<ellipse cx="294" cy="284.6" rx="6.16" ry="3.92" fill="#a0a8b0"/><path fill="#a0a8b0" d="M290.3,286.95 L290.92,290.68 L293.69,287.34 Z"/>
<circle cx="313.76" cy="285.98" r="2.37" fill="#70788a"/><path fill="#70788a" d="M309.81,295.47 L309.81,291.67 Q309.81,288.99 312.5,288.99 L315.03,288.99 Q317.71,288.99 317.71,291.67 L317.71,295.47 Z"/><circle cx="306.55" cy="284.21" r="2.63" fill="#70788a"/><path fill="#70788a" d="M302.16,295.62 L302.16,290.53 Q302.16,287.55 305.15,287.55 L307.96,287.55 Q310.94,287.55 310.94,290.53 L310.94,295.62 Z"/>
<path transform="translate(321.8,281.4) scale(0.7)" fill="#b05a2a" stroke="#b05a2a" stroke-width="1.1" stroke-linejoin="round" d="M-8,0.5 H-4.6 V9.2 H-8 Z M-3.8,0.8 C-1.6,-0.8 -1,-3.6 -1.2,-7 C-1.3,-10 3.4,-10 3.9,-6.2 C4.2,-3.8 3.6,-2 3.2,-0.9 H6.4 C8.8,-0.9 8.9,2 7.3,2.5 C8.6,3.1 8.4,5 7,5.3 C8,6 7.5,7.7 6.2,7.9 C6.6,8.9 5.8,9.6 4.5,9.6 H-0.5 C-2,9.6 -2.8,9 -3.8,8.5 Z"/>
<circle cx="323.2" cy="289.6" r="2.91" fill="#dfe9f3" stroke="#9aa6b4" stroke-width="1.22"/><path d="M325.68,292.08 L329.02,295.42" stroke="#9aa6b4" stroke-width="1.75" stroke-linecap="round"/>
<rect x="343" y="279.38" width="14" height="9.63" rx="1.12" fill="#8ccb2a"/><path d="M343.84,280.35 L350,285.36 L356.16,280.35 M343.84,288.25 L348.32,283.72 M356.16,288.25 L351.68,283.72" fill="none" stroke="#fff" stroke-opacity="0.85" stroke-width="0.98"/>
<path transform="translate(342,263.4) scale(0.22)" fill="#f2309a" d="M0,8 C-3,5 -10,1 -10,-4 C-10,-8 -6,-10 -3.5,-9 C-2,-8.6 -0.8,-7.6 0,-6 C0.8,-7.6 2,-8.6 3.5,-9 C6,-10 10,-8 10,-4 C10,1 3,5 0,8 Z"/>
<path transform="translate(325,260.4) scale(0.31)" fill="#8b4a22" d="M-7,5.5 C-11.5,5.5 -12,0 -8,-0.8 C-8.5,-4.5 -4.5,-6 -2.5,-3.8 C-1,-7.5 5.5,-7 5.5,-2.5 C9,-3.5 11.5,0 9.5,2.8 C9.5,4.5 8.5,5.5 6.5,5.5 Z"/>
<circle cx="347" cy="273.68" r="1.21" fill="#d8c8a0"/><path fill="#d8c8a0" d="M344.98,278.72 L344.98,276.59 Q344.98,275.22 346.35,275.22 L347.65,275.22 Q349.02,275.22 349.02,276.59 L349.02,278.72 Z"/>
<circle cx="333.75" cy="282.19" r="1.1" fill="#d8b890"/><path fill="#d8b890" d="M331.91,286.59 L331.91,284.83 Q331.91,283.58 333.16,283.58 L334.33,283.58 Q335.58,283.58 335.58,284.83 L335.58,286.59 Z"/><circle cx="330.4" cy="281.36" r="1.22" fill="#d8b890"/><path fill="#d8b890" d="M328.36,286.66 L328.36,284.3 Q328.36,282.91 329.75,282.91 L331.05,282.91 Q332.44,282.91 332.44,284.3 L332.44,286.66 Z"/>
<path transform="translate(349.5,293.6) scale(0.51)" fill="#3b8fe2" d="M-7,5.5 C-11.5,5.5 -12,0 -8,-0.8 C-8.5,-4.5 -4.5,-6 -2.5,-3.8 C-1,-7.5 5.5,-7 5.5,-2.5 C9,-3.5 11.5,0 9.5,2.8 C9.5,4.5 8.5,5.5 6.5,5.5 Z"/>
<ellipse cx="338.5" cy="289.6" rx="2.8" ry="4.48" fill="#e0e8a0"/><path fill="#e0e8a0" d="M336.82,292.29 L337.1,296.54 L338.36,292.74 Z"/>
<path transform="translate(217.2,290) scale(0.54)" fill="#f6d21f" d="M0,8 C-3,5 -10,1 -10,-4 C-10,-8 -6,-10 -3.5,-9 C-2,-8.6 -0.8,-7.6 0,-6 C0.8,-7.6 2,-8.6 3.5,-9 C6,-10 10,-8 10,-4 C10,1 3,5 0,8 Z"/>
<path transform="translate(232.8,304.4) scale(0.36)" fill="#6a80c8" d="M-7,5.5 C-11.5,5.5 -12,0 -8,-0.8 C-8.5,-4.5 -4.5,-6 -2.5,-3.8 C-1,-7.5 5.5,-7 5.5,-2.5 C9,-3.5 11.5,0 9.5,2.8 C9.5,4.5 8.5,5.5 6.5,5.5 Z"/>
<ellipse cx="224.8" cy="294" rx="2.24" ry="1.68" fill="#b8b0e0"/><path fill="#b8b0e0" d="M223.46,295.01 L223.68,296.6 L224.69,295.18 Z"/>
<path d="M228.77,292.51 A4.08,4.08 0 0 1 234.83,292.51" fill="none" stroke="#f5a64a" stroke-width="1.89" stroke-linecap="round"/><path d="M226.39,290.37 A7.28,7.28 0 0 1 237.21,290.37" fill="none" stroke="#f5a64a" stroke-width="1.89" stroke-linecap="round"/><path d="M224.01,288.23 A10.48,10.48 0 0 1 239.59,288.23" fill="none" stroke="#f5a64a" stroke-width="1.89" stroke-linecap="round"/><circle cx="231.8" cy="295.24" r="1.31" fill="#f5a64a"/>
<path fill="#f0a030" stroke="#f0a030" stroke-width="1.41" stroke-linejoin="round" d="M249.71,296.36 L252.61,288.84 L256.29,296.36 Z"/>
<path transform="translate(264.3,294.2) scale(0.25)" fill="#f2309a" d="M0,8 C-3,5 -10,1 -10,-4 C-10,-8 -6,-10 -3.5,-9 C-2,-8.6 -0.8,-7.6 0,-6 C0.8,-7.6 2,-8.6 3.5,-9 C6,-10 10,-8 10,-4 C10,1 3,5 0,8 Z"/>
<ellipse cx="224.6" cy="299.4" rx="3.92" ry="2.8" fill="#4a90d8"/><path fill="#4a90d8" d="M222.25,301.08 L222.64,303.74 L224.4,301.36 Z"/>
<rect x="239.4" y="294.76" width="5.6" height="10.08" rx="1.12" fill="#8fa8d0"/><rect x="240.35" y="295.97" width="3.7" height="4.23" fill="#eef2f6"/><path d="M240.52,301.41 H243.88 M240.52,302.62 H243.88 M240.52,303.73 H243.88" stroke="#eef2f6" stroke-width="0.55" stroke-dasharray="0.84 0.42" fill="none"/>
<path transform="translate(262.2,302.4) scale(1.02)" fill="#f28a22" d="M-7,5.5 C-11.5,5.5 -12,0 -8,-0.8 C-8.5,-4.5 -4.5,-6 -2.5,-3.8 C-1,-7.5 5.5,-7 5.5,-2.5 C9,-3.5 11.5,0 9.5,2.8 C9.5,4.5 8.5,5.5 6.5,5.5 Z"/>
<path transform="translate(280,297.2) scale(0.47)" fill="#a8b0d8" d="M0,8 C-3,5 -10,1 -10,-4 C-10,-8 -6,-10 -3.5,-9 C-2,-8.6 -0.8,-7.6 0,-6 C0.8,-7.6 2,-8.6 3.5,-9 C6,-10 10,-8 10,-4 C10,1 3,5 0,8 Z"/>
<ellipse cx="297.5" cy="293" rx="3.36" ry="2.24" fill="#a8d0f0"/><path fill="#a8d0f0" d="M295.48,294.34 L295.82,296.47 L297.33,294.57 Z"/>
<path transform="translate(233.5,302.4) scale(0.22)" fill="#c0b0e0" d="M0,8 C-3,5 -10,1 -10,-4 C-10,-8 -6,-10 -3.5,-9 C-2,-8.6 -0.8,-7.6 0,-6 C0.8,-7.6 2,-8.6 3.5,-9 C6,-10 10,-8 10,-4 C10,1 3,5 0,8 Z"/>
</g>
<text id="like" filter="url(#halo)" x="233.4" y="264.7" font-size="35.4" font-weight="bold" fill="url(#likeg)" stroke="url(#likeg)" stroke-width="2.5" stroke-linejoin="miter" textLength="87.6" lengthAdjust="spacingAndGlyphs">LIKE</text>
</g></g>

<g id="social" filter="url(#blur3)">
<rect x="358" y="470.5" width="374" height="4.2" fill="#000" opacity="0.55" filter="url(#sh2)"/>
<rect x="684" y="417.4" width="48.8" height="55.6" rx="3" fill="url(#ping)"/><path d="M687,418.29999999999995 H729.8" stroke="#e87878" stroke-width="1.6" stroke-linecap="round" opacity="0.8"/><path d="M685.8,471.9 H731.0" stroke="#0a1a2a" stroke-width="2.2" stroke-linecap="round" opacity="0.32"/><g clip-path="url(#pinclip)" fill="none" stroke="#fff" stroke-linecap="round"><path d="M688.6,451.5 C684,438 692,426.3 707,426.6 C719.5,427 724.6,436 723.2,445.2 C721.8,454.5 714.5,461 706.5,459.2 C703,458.3 700.8,456 700.2,453" stroke-width="7.6"/><path d="M702.6,440 L695,474" stroke-width="7.4"/></g>
<rect x="357" y="418" width="50.5" height="55.2" rx="3" fill="url(#gpg)"/><path d="M360,418.9 H404.5" stroke="#f59a8c" stroke-width="1.6" stroke-linecap="round" opacity="0.8"/><path d="M358.8,472.1 H405.7" stroke="#0a1a2a" stroke-width="2.2" stroke-linecap="round" opacity="0.32"/><text id="gpg" class="serif" x="358.6" y="458" font-size="71" fill="#fff" stroke="#fff" stroke-width="0.7">g</text><text id="gpp" x="391.6" y="440" font-size="27" fill="#fff" stroke="#fff" stroke-width="0.8">+</text>
<rect x="405.9" y="405.6" width="56.1" height="67.3" rx="3.5" fill="url(#lig)"/><path d="M409.4,406.5 H458.5" stroke="#6cc0e8" stroke-width="1.6" stroke-linecap="round" opacity="0.8"/><path d="M408.0,471.8 H459.9" stroke="#0a1a2a" stroke-width="2.2" stroke-linecap="round" opacity="0.32"/><text id="lin" x="409.6" y="464.6" font-size="70" font-weight="bold" fill="#fff" stroke="#fff" stroke-width="2.2" stroke-linejoin="round">in</text><circle cx="418.8" cy="418.4" r="7" fill="#fff"/>
<rect x="460.6" y="394.8" width="68.4" height="77.6" rx="3.5" fill="url(#twg)"/><path d="M464.1,395.7 H525.5" stroke="#8fd4f8" stroke-width="1.6" stroke-linecap="round" opacity="0.8"/><path d="M462.7,471.3 H526.9" stroke="#0a1a2a" stroke-width="2.2" stroke-linecap="round" opacity="0.32"/><path transform="translate(473.6,406.8) scale(2.22,2.26)" fill="#fff" d="M23.953 4.57a10 10 0 01-2.825.775 4.958 4.958 0 002.163-2.723c-.951.555-2.005.959-3.127 1.184a4.92 4.92 0 00-8.384 4.482C7.69 8.095 4.067 6.13 1.64 3.162a4.822 4.822 0 00-.666 2.475c0 1.71.87 3.213 2.188 4.096a4.904 4.904 0 01-2.228-.616v.06a4.923 4.923 0 003.946 4.827 4.996 4.996 0 01-2.212.085 4.936 4.936 0 004.604 3.417 9.867 9.867 0 01-6.102 2.105c-.39 0-.779-.023-1.17-.067a13.995 13.995 0 007.557 2.209c9.053 0 13.998-7.496 13.998-13.985 0-.21 0-.42-.015-.63A9.935 9.935 0 0024 4.59z"/>
<rect x="620" y="402.3" width="64.3" height="70" rx="5" fill="url(#ytg)"/><text id="you" transform="translate(629.2,429.3) scale(0.6,1)" font-size="32.4" font-weight="bold" fill="#333" stroke="#333" stroke-width="1.2">You</text><rect x="622" y="433.4" width="52" height="35.2" rx="7.5" fill="url(#ytr)"/><text id="tube" transform="translate(624,463) scale(0.61,1)" font-size="33.4" font-weight="bold" fill="#fff" stroke="#fff" stroke-width="1.2">Tube</text>
<rect x="528.2" y="380.5" width="94.4" height="92.7" rx="5.5" fill="url(#fbg)"/><path d="M533.7,381.4 H617.1" stroke="#8ea2d4" stroke-width="1.6" stroke-linecap="round" opacity="0.8"/><path d="M531.5,472.1 H619.3" stroke="#0a1a2a" stroke-width="2.2" stroke-linecap="round" opacity="0.32"/><g clip-path="url(#fbclip)"><text id="fbf" transform="translate(567,506.6) scale(0.97,1.09)" font-size="143" fill="#fff" stroke="#fff" stroke-width="2.4" stroke-linejoin="miter">f</text></g>
</g>

</svg>
</body>
</html>
